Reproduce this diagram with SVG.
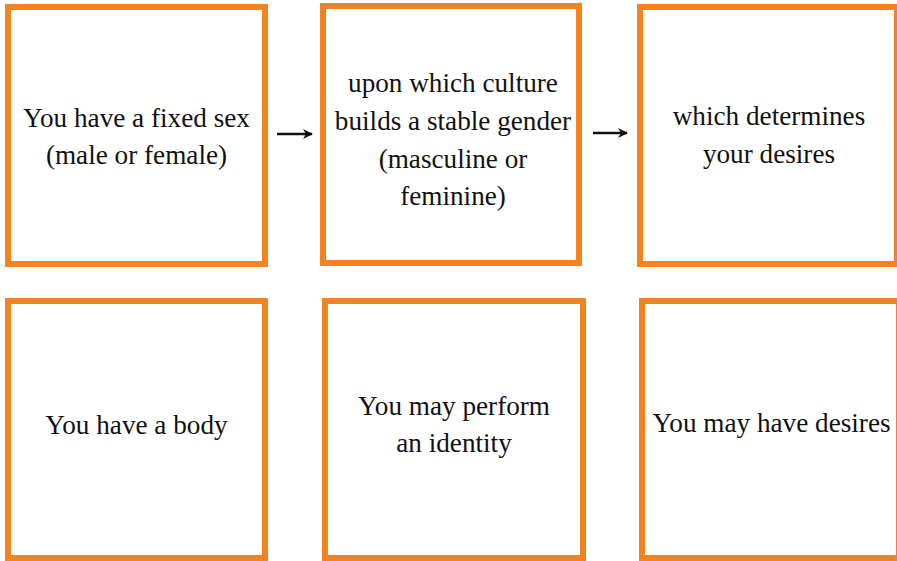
<svg xmlns="http://www.w3.org/2000/svg" width="897" height="561" viewBox="0 0 897 561">
<defs>
<style>
.box{fill:#fff;stroke:#F4821F;stroke-width:6}
.t{font-family:'Liberation Serif','Times New Roman',serif;font-size:27.2px;fill:#111;text-anchor:middle}
.arr{stroke:#111;stroke-width:2.5;fill:none}
</style>
<marker id="ah" viewBox="0 0 10 10" refX="9" refY="5" markerWidth="4" markerHeight="4" orient="auto" markerUnits="strokeWidth">
<path d="M0,0 L10,5 L0,10 L3,5 Z" fill="#111"/>
</marker>
</defs>
<rect width="897" height="561" fill="#fff"/>
<g id="node-sex">
<rect class="box" x="8" y="7" width="257" height="257"/>
<text class="t" x="136.5" y="127">You have a fixed sex</text>
<text class="t" x="136.5" y="164">(male or female)</text>
</g>
<g id="node-gender">
<rect class="box" x="323" y="6" width="256" height="257"/>
<text class="t" x="453" y="92">upon which culture</text>
<text class="t" x="453" y="130">builds a stable gender</text>
<text class="t" x="453" y="168">(masculine or</text>
<text class="t" x="453" y="205">feminine)</text>
</g>
<g id="node-desires">
<rect class="box" x="640" y="7" width="257" height="257"/>
<text class="t" x="769" y="125">which determines</text>
<text class="t" x="769" y="163">your desires</text>
</g>
<g id="node-body">
<rect class="box" x="8" y="301" width="257" height="257"/>
<text class="t" x="136.5" y="434">You have a body</text>
</g>
<g id="node-identity">
<rect class="box" x="325" y="301" width="258" height="257"/>
<text class="t" x="454" y="415">You may perform</text>
<text class="t" x="454" y="452">an identity</text>
</g>
<g id="node-may-desires">
<rect class="box" x="642" y="301" width="257" height="257"/>
<text class="t" x="771.5" y="432">You may have desires</text>
</g>
<g id="connectors">
<path class="arr" d="M277,134 H312" marker-end="url(#ah)"/>
<path class="arr" d="M593,133 H627" marker-end="url(#ah)"/>
</g>
</svg>
